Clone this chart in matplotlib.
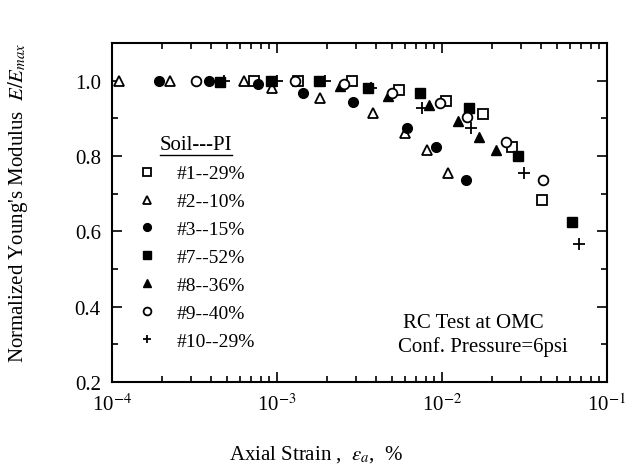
import matplotlib
matplotlib.use("Agg")
import matplotlib.pyplot as plt
from matplotlib.ticker import FixedLocator, LogLocator, NullFormatter, MultipleLocator
from matplotlib.lines import Line2D

plt.rcParams['font.family'] = ['Liberation Serif', 'DejaVu Serif']
plt.rcParams['mathtext.fontset'] = 'stix'

# axial strain (%) and normalized modulus E/Emax per soil
s1_x = [7.3e-4, 1.35e-3, 2.85e-3, 5.48e-3, 1.06e-2, 1.77e-2, 2.65e-2, 4.04e-2]
s1_y = [1.0, 1.0, 1.0, 0.976, 0.947, 0.91, 0.823, 0.682]
s2_x = [1.1e-4, 2.25e-4, 6.3e-4, 9.3e-4, 1.83e-3, 3.82e-3, 5.97e-3, 8.1e-3, 1.09e-2]
s2_y = [1.0, 1.0, 1.0, 0.98, 0.955, 0.915, 0.862, 0.815, 0.756]
s3_x = [1.93e-4, 3.87e-4, 7.7e-4, 1.44e-3, 2.89e-3, 6.14e-3, 9.2e-3, 1.40e-2]
s3_y = [1.0, 1.0, 0.99, 0.968, 0.942, 0.875, 0.825, 0.735]
s7_x = [4.52e-4, 9.2e-4, 1.8e-3, 3.56e-3, 7.36e-3, 1.46e-2, 2.89e-2, 6.14e-2]
s7_y = [0.995, 1.0, 1.0, 0.98, 0.966, 0.926, 0.80, 0.624]
s8_x = [2.41e-3, 4.71e-3, 8.34e-3, 1.25e-2, 1.68e-2, 2.12e-2]
s8_y = [0.985, 0.96, 0.936, 0.894, 0.849, 0.817]
s9_x = [3.23e-4, 1.28e-3, 2.55e-3, 4.97e-3, 9.7e-3, 1.42e-2, 2.44e-2, 4.09e-2]
s9_y = [1.0, 1.0, 0.99, 0.966, 0.94, 0.902, 0.836, 0.735]
s10_x = [4.8e-4, 1.0e-3, 1.96e-3, 3.7e-3, 7.6e-3, 1.5e-2, 3.14e-2, 6.76e-2]
s10_y = [1.0, 1.0, 1.0, 0.98, 0.928, 0.873, 0.756, 0.566]

labels = ['#1--29%', '#2--10%', '#3--15%', '#7--52%', '#8--36%', '#9--40%', '#10--29%']

fig = plt.figure(figsize=(6.29, 4.77), dpi=100)
ax = fig.add_axes([0.178, 0.197, 0.787, 0.711])

ms = 7
ax.plot(s1_x, s1_y, 's', ms=ms, mfc='white', mec='black', mew=1.3, label=labels[0])
ax.plot(s2_x, s2_y, '^', ms=ms, mfc='white', mec='black', mew=1.3, label=labels[1])
ax.plot(s3_x, s3_y, 'o', ms=ms, color='black', label=labels[2])
ax.plot(s7_x, s7_y, 's', ms=ms, color='black', label=labels[3])
ax.plot(s8_x, s8_y, '^', ms=ms, color='black', label=labels[4])
ax.plot(s9_x, s9_y, 'o', ms=ms, mfc='white', mec='black', mew=1.3, label=labels[5])
ax.plot(s10_x, s10_y, '+', ms=ms + 1, color='black', mew=1.3, label=labels[6])

ax.set_xscale('log')
ax.set_xlim(1e-4, 1e-1)
ax.set_ylim(0.2, 1.1)
ax.xaxis.set_major_locator(FixedLocator([1e-4, 1e-3, 1e-2, 1e-1]))
ax.set_xticklabels(['10$^{-4}$', '10$^{-3}$', '10$^{-2}$', '10$^{-1}$'])
ax.xaxis.set_minor_locator(LogLocator(base=10, subs=range(2, 10)))
ax.xaxis.set_minor_formatter(NullFormatter())
ax.yaxis.set_major_locator(FixedLocator([0.2, 0.4, 0.6, 0.8, 1.0]))
ax.set_yticklabels(['0.2', '0.4', '0.6', '0.8', '1.0'])
ax.yaxis.set_minor_locator(MultipleLocator(0.1))

ax.tick_params(which='both', direction='in', top=True, right=True, labelsize=15, width=1.2)
ax.tick_params(which='major', length=7, pad=8)
ax.tick_params(which='minor', length=4)
for sp in ax.spines.values():
    sp.set_linewidth(1.5)

leg = ax.legend(loc='upper left', bbox_to_anchor=(120 / 629, 1 - 119 / 477),
                bbox_transform=fig.transFigure, frameon=False, numpoints=1,
                markerscale=0.8, handlelength=1.0, handletextpad=1.0,
                labelspacing=0.53, fontsize=14, title='Soil---PI', title_fontsize=15)

ax.text(403 / 629, 1 - 323 / 477, 'RC Test at OMC', transform=fig.transFigure,
        fontsize=15, va='center')
ax.text(398 / 629, 1 - 347 / 477, 'Conf. Pressure=6psi', transform=fig.transFigure,
        fontsize=15, va='center')

fig.text(316 / 629, 1 - 455 / 477, r'Axial Strain ,  $\varepsilon_a$,  %',
         fontsize=15, ha='center', va='center')
fig.text(18 / 629, 1 - 203 / 477, r"Normalized Young's Modulus  $E/E_{max}$",
         fontsize=15, ha='center', va='center', rotation=90)

# underline the legend title
fig.canvas.draw()
bb = leg.get_title().get_window_extent().transformed(fig.transFigure.inverted())
fig.add_artist(Line2D([bb.x0, bb.x1], [bb.y0, bb.y0], transform=fig.transFigure,
                      color='black', lw=1.0))

fig.savefig('out.png', dpi=100)
